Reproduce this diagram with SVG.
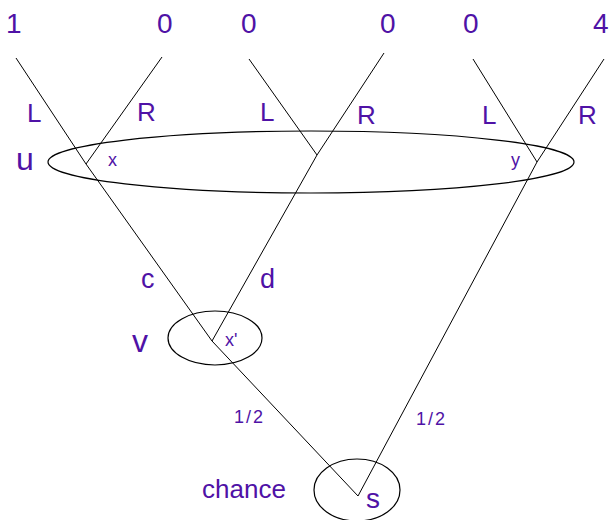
<svg xmlns="http://www.w3.org/2000/svg" width="611" height="520" viewBox="0 0 611 520">
<style>
  .ln { stroke: #000; stroke-width: 1; fill: none; }
  .set { stroke: #000; stroke-width: 1.2; fill: none; }
  text { font-family: "Liberation Sans", Arial, sans-serif; fill: #4f12a6; }
  .pay { font-size: 28px; }
  .lab { font-size: 26px; }
  .big { font-size: 32px; }
  .sm { font-size: 18px; }
  .half { font-size: 18px; letter-spacing: 2px; }
</style>
<rect width="611" height="520" fill="#fff"/>
<g id="connectors">
  <line class="ln" x1="16" y1="58" x2="86" y2="164"/>
  <line class="ln" x1="86" y1="164" x2="162" y2="57"/>
  <line class="ln" x1="249" y1="59" x2="317" y2="155"/>
  <line class="ln" x1="317" y1="155" x2="384" y2="53"/>
  <line class="ln" x1="473" y1="59" x2="537" y2="162"/>
  <line class="ln" x1="537" y1="162" x2="604" y2="59"/>
  <line class="ln" x1="86" y1="164" x2="212" y2="341"/>
  <line class="ln" x1="317" y1="155" x2="212" y2="341"/>
  <line class="ln" x1="212" y1="341" x2="358" y2="496"/>
  <line class="ln" x1="537" y1="162" x2="358" y2="496"/>
  <text class="lab" x="27" y="122">L</text>
  <text class="lab" x="137" y="121">R</text>
  <text class="lab" x="260" y="121">L</text>
  <text class="lab" x="357" y="124">R</text>
  <text class="lab" x="482" y="124">L</text>
  <text class="lab" x="578" y="124">R</text>
  <text class="lab" x="141" y="288" style="font-size:27px">c</text>
  <text class="lab" x="260" y="288" style="font-size:27px">d</text>
  <text class="half" x="234" y="423">1/2</text>
  <text class="half" x="416" y="425">1/2</text>
</g>
<g id="leaf-1"><text class="pay" x="6" y="33">1</text></g>
<g id="leaf-2"><text class="pay" x="157" y="33">0</text></g>
<g id="leaf-3"><text class="pay" x="241" y="33">0</text></g>
<g id="leaf-4"><text class="pay" x="380" y="33">0</text></g>
<g id="leaf-5"><text class="pay" x="463" y="33">0</text></g>
<g id="leaf-6"><text class="pay" x="593" y="33">4</text></g>
<g id="set-u">
  <ellipse class="set" cx="311" cy="162" rx="263" ry="31"/>
  <text class="big" x="16" y="170">u</text>
</g>
<g id="node-x"><text class="sm" x="108" y="166">x</text></g>
<g id="node-y"><text class="sm" x="511" y="166">y</text></g>
<g id="set-v">
  <ellipse class="set" cx="215" cy="338" rx="47" ry="27"/>
  <text class="big" x="132" y="352">v</text>
</g>
<g id="node-x2"><text class="sm" x="225" y="346">x'</text></g>
<g id="chance">
  <ellipse class="set" cx="357" cy="490" rx="43" ry="31"/>
  <text class="lab" x="202" y="498">chance</text>
  <text class="lab" x="366" y="508" style="font-size:28px">s</text>
</g>
</svg>
